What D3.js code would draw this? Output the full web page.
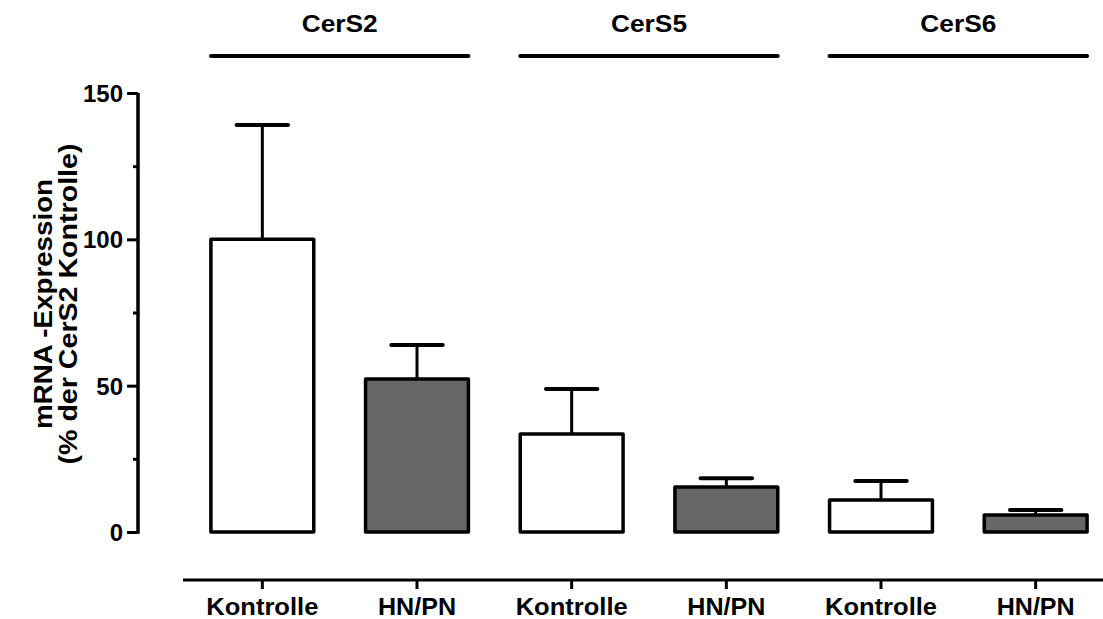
<!DOCTYPE html>
<html>
<head>
<meta charset="utf-8">
<script src="https://cdn.jsdelivr.net/npm/d3@7"></script>
<style>
  html, body { margin: 0; padding: 0; background: #fff; }
  svg { display: block; font-family: "Liberation Sans", Arial, Helvetica, sans-serif; font-weight: bold; }
</style>
</head>
<body>
<svg id="chart" width="1103" height="619"></svg>
<script>
// Ceramide synthase mRNA expression, relative to CerS2 control
const genes = ["CerS2", "CerS5", "CerS6"];
const conditions = ["Kontrolle", "HN/PN"];
const means = [100, 52.3, 33.5, 15.4, 10.9, 5.8];   // % of CerS2 control
const errors = [39.1, 11.6, 15.4, 3.0, 6.5, 1.7];   // upper error bar
const yTicks = [0, 50, 100, 150];
const yMinorTicks = [25, 75, 125];
const yLabelLines = ["mRNA -Expression", "(% der CerS2 Kontrolle)"];

const fills = { "Kontrolle": "#ffffff", "HN/PN": "#666666" };

const bars = [];
genes.forEach((g, gi) => conditions.forEach((c, ci) => {
  const i = gi * conditions.length + ci;
  bars.push({ key: g + "|" + c, gene: g, cond: c, mean: means[i], err: errors[i] });
}));

const svg = d3.select("#chart");

const x = d3.scaleBand()
  .domain(bars.map(d => d.key))
  .range([185, 1113])
  .paddingInner(0.335)
  .paddingOuter(0.1675);

const y = d3.scaleLinear().domain([0, 150]).range([532, 93]);

// Y axis
const yAxis = svg.append("g").attr("transform", "translate(138,0)");
yAxis.call(d3.axisLeft(y).tickValues(yTicks).tickSize(11).tickPadding(4).tickFormat(d3.format("d")));
yAxis.append("g").call(d3.axisLeft(y).tickValues(yMinorTicks).tickSize(5).tickFormat(""));
yAxis.selectAll(".domain").attr("stroke", "#000").attr("stroke-width", 3)
  .attr("d", `M0,${y(150)}V${y(0) + 1.5}`);
yAxis.selectAll(".tick line").attr("stroke", "#000").attr("stroke-width", 3);
yAxis.selectAll(".tick text")
  .attr("fill", "#000")
  .style("font-size", "24px")
  .style("font-weight", "bold")
  .style("font-family", "'Liberation Sans', Arial, sans-serif")
  .attr("dy", "0.36em");

// Y axis title (two lines, rotated)
const yTitle = svg.append("g").attr("transform", "translate(0,304) rotate(-90)");
yLabelLines.forEach((t, i) => {
  yTitle.append("text")
    .attr("x", 0)
    .attr("y", i === 0 ? 52 : 77)
    .attr("text-anchor", "middle")
    .style("font-size", "26px")
    .attr("textLength", i === 0 ? 250 : 321)
    .attr("lengthAdjust", "spacingAndGlyphs")
    .text(t);
});

// X axis
const xAxis = svg.append("g").attr("transform", "translate(0,580)");
xAxis.call(d3.axisBottom(x).tickSize(9).tickPadding(9).tickFormat(k => k.split("|")[1]));
xAxis.selectAll(".domain").attr("stroke", "#000").attr("stroke-width", 3)
  .attr("d", "M183,0H1103");
xAxis.selectAll(".tick line").attr("stroke", "#000").attr("stroke-width", 3);
xAxis.selectAll(".tick text")
  .attr("fill", "#000")
  .style("font-size", "24px")
  .style("font-weight", "bold")
  .style("font-family", "'Liberation Sans', Arial, sans-serif")
  .attr("textLength", k => k.endsWith("Kontrolle") ? 112 : 78)
  .attr("lengthAdjust", "spacingAndGlyphs");

// Bars
svg.append("g").selectAll("rect").data(bars).join("rect")
  .attr("x", d => x(d.key))
  .attr("y", d => y(d.mean))
  .attr("width", x.bandwidth())
  .attr("height", d => y(0) - y(d.mean))
  .attr("fill", d => fills[d.cond])
  .attr("stroke", "#000")
  .attr("stroke-width", 3.5)
  .attr("stroke-linejoin", "round");

// Error bars (upper only)
const eb = svg.append("g").attr("stroke", "#000");
eb.selectAll("line.stem").data(bars).join("line").attr("class", "stem")
  .attr("x1", d => x(d.key) + x.bandwidth() / 2)
  .attr("x2", d => x(d.key) + x.bandwidth() / 2)
  .attr("y1", d => y(d.mean))
  .attr("y2", d => y(d.mean + d.err))
  .attr("stroke-width", 3);
eb.selectAll("line.cap").data(bars).join("line").attr("class", "cap")
  .attr("x1", d => x(d.key) + x.bandwidth() * 0.25)
  .attr("x2", d => x(d.key) + x.bandwidth() * 0.75)
  .attr("y1", d => y(d.mean + d.err))
  .attr("y2", d => y(d.mean + d.err))
  .attr("stroke-width", 4)
  .attr("stroke-linecap", "round");

// Gene group headers with bracket lines
const groups = svg.append("g");
genes.forEach(g => {
  const first = x(g + "|" + conditions[0]);
  const last = x(g + "|" + conditions[conditions.length - 1]) + x.bandwidth();
  groups.append("line")
    .attr("x1", first).attr("x2", last)
    .attr("y1", 56).attr("y2", 56)
    .attr("stroke", "#000").attr("stroke-width", 4).attr("stroke-linecap", "round");
  groups.append("text")
    .attr("x", (first + last) / 2)
    .attr("y", 32)
    .attr("text-anchor", "middle")
    .style("font-size", "24px")
    .attr("textLength", 76)
    .attr("lengthAdjust", "spacingAndGlyphs")
    .text(g);
});
</script>
</body>
</html>
